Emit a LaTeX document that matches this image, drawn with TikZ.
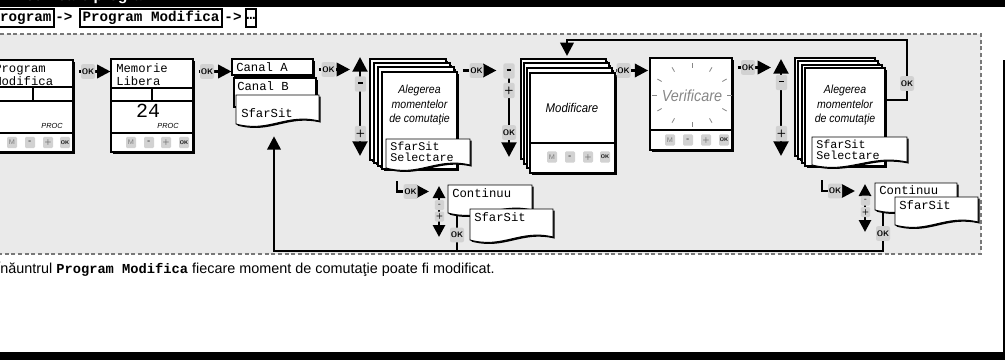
\documentclass[tikz,border=0pt]{standalone}
\usepackage{fontspec}
\setmainfont{Liberation Sans}
\setmonofont{Liberation Mono}
\newfontfamily\lcdf{Liberation Mono}
\newfontfamily\narrowf[FakeStretch=0.9]{Liberation Sans}
\usetikzlibrary{arrows.meta,fit,shadows}
\pgfdeclarelayer{back}
\pgfdeclarelayer{conn}
\pgfsetlayers{back,conn,main}
\definecolor{bgc}{RGB}{234,234,234}
\definecolor{btn}{RGB}{210,210,210}
\definecolor{dsh}{RGB}{120,120,120}
\definecolor{vgray}{RGB}{135,135,135}
\newcommand\minusbar{\rule[1.6pt]{3.6pt}{1.3pt}}
\newcommand\docshape[5]{%
  \fill[black,shift={(1.6,1.6)}] ({#2},{#5}) -- ({#2},{#3}) -- ({#4},{#3}) -- ({#4},{#5-3}) .. controls ({#2+0.6*(#4-#2)},{#5-11}) and ({#2+0.4*(#4-#2)},{#5+9}) .. ({#2},{#5}) -- cycle;
  \draw[line width=0.7pt,fill=white] ({#2},{#5}) -- ({#2},{#3}) -- ({#4},{#3}) -- ({#4},{#5-3}) .. controls ({#2+0.6*(#4-#2)},{#5-11}) and ({#2+0.4*(#4-#2)},{#5+9}) .. ({#2},{#5}) -- cycle;
  \node[fit={(#2,#3) (#4,#5)},inner sep=0pt] (#1) {};}
\newcommand\keyrow[6]{%
  \node[keyb,text=black!55] (#1m) at (#3,#2) {M};
  \node[keyb,font=\sffamily\bfseries\fontsize{6.5}{6}\selectfont] (#1n) at (#4,#2) {-};
  \node[keyb,text=black!55,font=\sffamily\bfseries\fontsize{6}{6}\selectfont] (#1p) at (#5,#2) {+};
  \node[keyb,font=\sffamily\bfseries\fontsize{4}{4}\selectfont] (#1o) at (#6,#2) {OK};}
\begin{document}
\begin{tikzpicture}[x=0.75pt,y=-0.75pt,
 okb/.style={fill=btn,rounded corners=1.5pt,minimum width=10.5pt,minimum height=11pt,inner sep=0pt,font=\sffamily\bfseries\fontsize{6}{6}\selectfont},
 pmb/.style={fill=btn,rounded corners=1.5pt,minimum width=8.5pt,minimum height=11.5pt,inner sep=0pt,font=\sffamily\bfseries\fontsize{8}{8}\selectfont},
 spmb/.style={fill=btn,rounded corners=1pt,minimum width=7pt,minimum height=7.5pt,inner sep=0pt,font=\sffamily\bfseries\fontsize{6}{6}\selectfont},
 keyb/.style={fill=btn,rounded corners=1pt,minimum width=7.5pt,minimum height=8.5pt,inner sep=0pt,font=\sffamily\fontsize{5}{5}\selectfont},
 fl/.style={line width=1.9pt},
 arr/.style={fl,-{Triangle[length=10pt,width=10pt]}},
 varr/.style={line width=2.2pt,{Triangle[length=11pt,width=11pt]}-{Triangle[length=11pt,width=11pt]}},
 svarr/.style={line width=2pt,{Triangle[length=9pt,width=9pt]}-{Triangle[length=9pt,width=9pt]}},
 lcdbox/.style={draw,line width=0.8pt,fill=white,inner sep=0pt,drop shadow={opacity=1,fill=black,shadow xshift=1.3pt,shadow yshift=-1.3pt}},
 lcd/.style={font=\lcdf\fontsize{9.2}{10}\selectfont,inner sep=0pt,anchor=base west},
 slcd/.style={font=\lcdf\fontsize{8.8}{10}\selectfont,inner sep=0pt,anchor=base west},
 crumb/.style={draw,line width=1.3pt,font=\ttfamily\bfseries\fontsize{10.7}{12}\selectfont,inner xsep=2pt,inner ysep=0pt,minimum height=13.5pt},
 lbl/.style={align=center,inner sep=0pt,font=\narrowf\itshape\fontsize{8.8}{11.2}\selectfont},
 proc/.style={font=\itshape\fontsize{5.5}{6}\selectfont,inner sep=0pt},
 ray/.style={vgray,line width=0.6pt},
 thin/.style={line width=0.8pt},
]
\useasboundingbox (0,0) rectangle (1005,360);
\begin{pgfonlayer}{back}
\fill[white] (0,0) rectangle (1005,360);
\fill[bgc] (0,34) rectangle (981,254);
\draw[dsh,line width=0.8pt,dash pattern=on 3pt off 2pt] (0,34) -- (981,34) -- (981,254) -- (0,254);
\fill[black] (0,352) rectangle (1005,360);
\fill[black] (1002.5,60) rectangle (1005,352);
\fill[black] (0,-20) rectangle (1005,7.5);
\end{pgfonlayer}
\node[anchor=base east,text=white,font=\bfseries\fontsize{11.5}{12}\selectfont,inner sep=0pt] (title) at (156,0.8) {Modificare program};
% breadcrumb
\node[crumb,anchor=east] (c1) at (55,18) {Program};
\node[font=\ttfamily\bfseries\fontsize{10.7}{12}\selectfont,inner sep=0pt] (a1) at (64,17) {->};
\node[crumb,anchor=west] (c2) at (79,18) {Program Modifica};
\node[font=\ttfamily\bfseries\fontsize{10.7}{12}\selectfont,inner sep=0pt] (a2) at (233,17) {->};
\node[crumb,anchor=west,inner xsep=0.5pt] (c3) at (245,18) {…};
% bottom note
\node[anchor=base west,inner sep=0pt,font=\fontsize{10.8}{12}\selectfont] (note) at (-4,273) {Înăuntrul {\ttfamily\bfseries\fontsize{10.3}{12}\selectfont Program Modifica} fiecare moment de comutaţie poate fi modificat.};
% ---- box1
\node[lcdbox,fit={(-9,60) (73,152)}] (box1) {};
\draw[thin] (-9,87) -- (73,87) (-9,101) -- (73,101) (33,87) -- (33,101) (-9,133) -- (73,133);
\node[lcd] (t1a) at (-6,72) {Program};
\node[lcd] (t1b) at (-6,85) {Modifica};
\node[proc] (proc1) at (52,126) {PROC};
\keyrow{ka}{142.5}{12}{30}{48}{65}
% ---- box2
\node[lcdbox,fit={(111,59) (193,152)}] (box2) {};
\draw[thin] (111,88) -- (193,88) (111,101) -- (193,101) (152,88) -- (152,101) (111,133) -- (193,133);
\node[lcd] (t2a) at (116,72) {Memorie};
\node[lcd] (t2b) at (116,85) {Libera};
\node[font=\lcdf\fontsize{15}{15}\selectfont,inner sep=0pt] (num) at (148,111) {24};
\node[proc] (proc2) at (168,126) {PROC};
\keyrow{kb}{142.5}{131}{149}{166}{184}
% ---- canal menu
\node[lcdbox,fit={(232,59) (313,75)}] (canalA) {};
\node[lcd] (tca) at (236,71) {Canal A};
\node[lcdbox,fit={(234,78) (316,107)}] (canalB) {};
\node[lcd] (tcb) at (237,90) {Canal B};
\docshape{sfA}{236}{95}{319}{124}
\node[lcd] (tsfA) at (241,117) {SfarSit};
% ---- stack 1
\node[lcdbox,fit={(370,59) (446,160)}] (s1a) {};
\node[lcdbox,fit={(374,63) (450,163)}] (s1b) {};
\node[lcdbox,fit={(378,67) (454,166)}] (s1c) {};
\node[lcdbox,fit={(382,72) (457,169)}] (s1d) {};
\node[lbl] (s1t) at (419.5,105) {Alegerea\\momentelor\\de comutaţie};
\docshape{s1doc}{386}{139}{470}{168}
\node[slcd] (s1x) at (390,150) {SfarSit};
\node[slcd] (s1y) at (390,161) {Selectare};
% ---- Modificare stack
\node[lcdbox,fit={(521,59) (606,159)}] (m1) {};
\node[lcdbox,fit={(524,63) (609,164)}] (m2) {};
\node[lcdbox,fit={(527,68) (612,168)}] (m3) {};
\node[lcdbox,fit={(530,73) (615,173)}] (m4) {};
\draw[thin] (530,143) -- (615,143);
\node[font=\narrowf\itshape\fontsize{9.5}{11}\selectfont,inner sep=0pt] (mt) at (572,108) {Modificare};
\keyrow{kc}{157}{552}{570}{588}{605}
% ---- Verificare
\node[lcdbox,fit={(650,58) (732,150)}] (verif) {};
\draw[thin] (650,130) -- (732,130);
\node[font=\narrowf\itshape\fontsize{12}{13}\selectfont,text=vgray,inner sep=0pt] (vt) at (692,96) {Verificare};
\foreach \a in {0,30,...,330}
  \draw[ray] ({692+35*cos(\a)},{95-27*sin(\a)}) -- ({692+40*cos(\a)},{95-32*sin(\a)});
\keyrow{kd}{140}{670}{688}{706}{724}
% ---- stack 2
\node[lcdbox,fit={(795,58) (875,156)}] (s2a) {};
\node[lcdbox,fit={(798,61) (878,159)}] (s2b) {};
\node[lcdbox,fit={(802,65) (882,163)}] (s2c) {};
\node[lcdbox,fit={(805,68) (885,166)}] (s2d) {};
\node[lbl] (s2t) at (845,105) {Alegerea\\momentelor\\de comutaţie};
\docshape{s2doc}{812}{137}{907}{165}
\node[slcd] (s2x) at (816,148) {SfarSit};
\node[slcd] (s2y) at (816,159) {Selectare};
% ---- branch 1
\docshape{cont1}{448}{185}{532}{213}
\node[lcd] (tc1) at (452,197) {Continuu};
\docshape{sf1}{470}{209}{553}{240}
\node[lcd] (tsf1) at (474,221) {SfarSit};
% ---- branch 2
\docshape{cont2}{875}{183}{957}{210}
\node[lcd] (tc2) at (879,194) {Continuu};
\docshape{sf2}{895}{197}{978}{225}
\node[lcd] (tsf2) at (899,209) {SfarSit};
% ---- OK labels
\node[okb] (ok1) at (88,71.5) {OK};
\node[okb] (ok2) at (207,71.5) {OK};
\node[okb] (ok3) at (328.5,69.5) {OK};
\node[okb] (ok4) at (476.5,70.5) {OK};
\node[okb] (ok5) at (623.5,70.5) {OK};
\node[okb] (ok6) at (748,67.5) {OK};
\node[okb] (okl) at (907,83.5) {OK};
\node[okb] (ok7) at (410.5,191.5) {OK};
\node[okb] (ok8) at (835,191) {OK};
\node[okb] (okc1) at (457,235) {OK};
\node[okb] (okc2) at (883,233.5) {OK};
% scroll groups
\coordinate (v1t) at (360,57); \coordinate (v1b) at (360,156);
\node[pmb] (v1m) at (360.5,84) {\minusbar};
\node[pmb] (v1p) at (360.5,133.5) {+};
\coordinate (v2t) at (509,78); \coordinate (v2b) at (509,157);
\node[pmb] (v2m) at (509,71) {\minusbar};
\node[pmb] (v2p) at (509,90.5) {+};
\node[okb] (v2ok) at (509,132.5) {OK};
\coordinate (v3t) at (781,59); \coordinate (v3b) at (781,156);
\node[pmb] (v3m) at (781.5,82.5) {\minusbar};
\node[pmb] (v3p) at (781.5,133.5) {+};
\coordinate (v4t) at (439,186); \coordinate (v4b) at (439,237);
\node[spmb] (v4m) at (439.5,205) {-};
\node[spmb] (v4p) at (439.5,216.5) {+};
\coordinate (v5t) at (865,184); \coordinate (v5b) at (865,232);
\node[spmb] (v5m) at (865.5,200.5) {-};
\node[spmb] (v5p) at (865.5,212) {+};
% coordinates for loops
\coordinate (v1in) at (350,69.5);
\coordinate (v3in) at (771,67.5);
\coordinate (v4in) at (429,191.5);
\coordinate (v5in) at (855,191);
\coordinate (L1) at (397,181);
\coordinate (L2) at (822,180);
\coordinate (s2out) at (907,100);
\coordinate (lpa) at (907,40);
\coordinate (lpb) at (567,40);
\coordinate (lpend) at (567,56);
\coordinate (blR) at (883,251);
\coordinate (blL) at (274,251);
\begin{pgfonlayer}{conn}
\draw[fl,shorten <=4pt] (box1.east |- ok1) -- (ok1.west);
\draw[arr] (ok1.east) -- (ok1.east -| box2.west);
\draw[fl,shorten <=4pt] (box2.east |- ok2) -- (ok2.west);
\draw[arr] (ok2.east) -- (ok2.east -| canalA.west);
\draw[fl,shorten <=4pt] (canalA.east |- ok3) -- (ok3.west);
\draw[arr] (ok3.east) -- (v1in);
\draw[varr] (v1t) -- (v1b);
\draw[fl,shorten <=4pt] (s1d.east |- ok4) -- (ok4.west);
\draw[arr,shorten >=5pt] (ok4.east) -- (ok4.east -| v2m.west);
\draw[line width=2.2pt,-{Triangle[length=11pt,width=11pt]}] (v2t) -- (v2b);
\draw[fl,shorten <=2pt] (m4.east |- ok5) -- (ok5.west);
\draw[arr,shorten >=1pt] (ok5.east) -- (ok5.east -| verif.west);
\draw[fl,shorten <=4pt] (verif.east |- ok6) -- (ok6.west);
\draw[arr] (ok6.east) -- (v3in);
\draw[varr] (v3t) -- (v3b);
\draw[arr] (s2d.east |- s2out) -- (s2out) -- (lpa) -- (lpb) -- (lpend);
\draw[fl] (L1) |- (ok7.west);
\draw[arr] (ok7.east) -- (v4in);
\draw[svarr] (v4t) -- (v4b);
\draw[fl] (L2) |- (ok8.west);
\draw[arr] (ok8.east) -- (v5in);
\draw[svarr] (v5t) -- (v5b);
\draw[fl] (cont1.south -| okc1) -- (okc1 |- blL);
\draw[arr,shorten >=9pt] (cont2.south -| blR) -- (blR) -- (blL) -- (sfA.south -| blL);
\end{pgfonlayer}
\end{tikzpicture}
\end{document}
